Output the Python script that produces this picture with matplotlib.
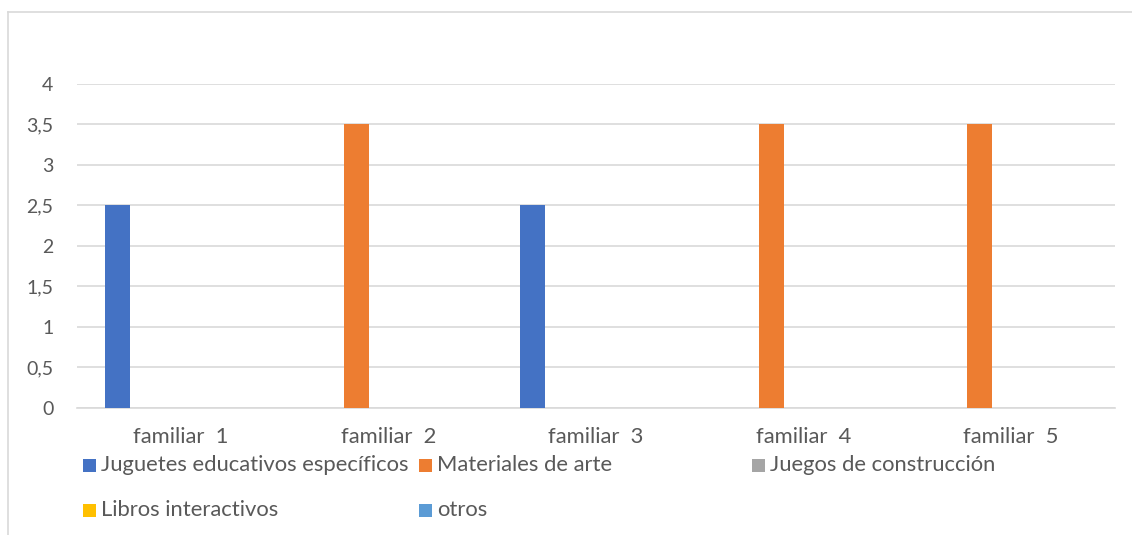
import matplotlib
matplotlib.use("Agg")
import matplotlib.pyplot as plt
from matplotlib.patches import Rectangle
from matplotlib.lines import Line2D
import numpy as np

categories = ["familiar  1", "familiar  2", "familiar  3", "familiar  4", "familiar  5"]
series_names = ["Juguetes educativos específicos", "Materiales de arte",
                "Juegos de construcción", "Libros interactivos", "otros"]
juguetes = [2.5, 0, 2.5, 0, 0]
materiales = [0, 3.5, 0, 3.5, 3.5]
juegos = [0, 0, 0, 0, 0]
libros = [0, 0, 0, 0, 0]
otros = [0, 0, 0, 0, 0]
yticks = [0, 0.5, 1, 1.5, 2, 2.5, 3, 3.5, 4]
ytick_labels = ["0", "0,5", "1", "1,5", "2", "2,5", "3", "3,5", "4"]

series_values = [juguetes, materiales, juegos, libros, otros]
colors = ["#4472C4", "#ED7D31", "#A5A5A5", "#FFC000", "#5B9BD5"]
text_color = "#595959"
grid_color = "#D9D9D9"

plt.rcParams['font.family'] = ['Lato', 'DejaVu Sans']

W, H = 1132, 535
fig = plt.figure(figsize=(W / 100, H / 100), dpi=100)
ax = fig.add_axes([77 / W, 1 - 407.7 / H, (1115 - 77) / W, (407.7 - 84) / H])

x = np.arange(len(categories))
spacing = 0.153
width = 0.12
for i, (vals, c) in enumerate(zip(series_values, colors)):
    ax.bar(x + (i - 2) * spacing, vals, width=width, color=c, linewidth=0,
           label=series_names[i], zorder=3)

ax.set_xlim(-0.5, len(categories) - 0.5)
ax.set_ylim(0, 4)
ax.set_yticks(yticks)
ax.set_yticklabels(ytick_labels)
ax.set_xticks(x)
ax.set_xticklabels(categories)
ax.tick_params(axis='both', length=0, colors=text_color)
ax.tick_params(axis='y', pad=17, labelsize=14)
ax.tick_params(axis='x', pad=14, labelsize=15.8)
ax.grid(axis='y', color=grid_color, linewidth=1.2, zorder=0)
for s in ["top", "right", "left"]:
    ax.spines[s].set_visible(False)
ax.spines["bottom"].set_color(grid_color)
ax.spines["bottom"].set_linewidth(1.2)

# chart border (light gray)
fig.add_artist(Line2D([8 / W, 1.0], [1 - 12 / H, 1 - 12 / H], color=grid_color,
                      linewidth=1.2, transform=fig.transFigure))
fig.add_artist(Line2D([8 / W, 8 / W], [1 - 12 / H, 0], color=grid_color,
                      linewidth=1.2, transform=fig.transFigure))

# legend laid out as in the reference
legend_pos = [(83, 465), (419, 465), (752, 465), (83, 510), (419, 510)]
sq = 13
for (px, py), name, c in zip(legend_pos, series_names, colors):
    fig.add_artist(Rectangle((px / W, 1 - (py + sq / 2) / H), sq / W, sq / H,
                             facecolor=c, edgecolor='none', transform=fig.transFigure))
    fig.text((px + sq + 5) / W, 1 - py / H, name, fontsize=15.8, color=text_color,
             va='center', ha='left')

fig.savefig("out.png", dpi=100, facecolor="white")
